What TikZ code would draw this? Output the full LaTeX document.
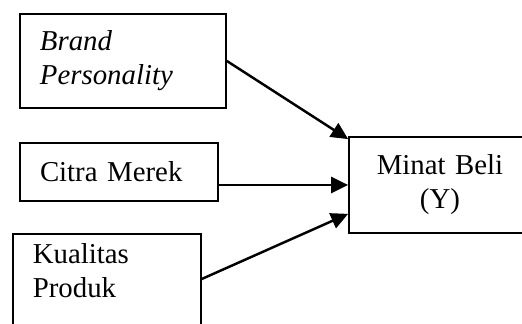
\documentclass[tikz,border=0pt]{standalone}
\usepackage{fontspec}
\setmainfont{Liberation Serif}
\usetikzlibrary{arrows.meta}

\begin{document}
\begin{tikzpicture}[
  >={Triangle[length=0.34cm,width=0.32cm]},
  box/.style={draw, line width=1pt, rectangle, align=left, inner xsep=0.4cm,
    font=\fontsize{16.4}{19.4}\selectfont},
  link/.style={->, line width=1.4pt}]
\useasboundingbox (0,0) rectangle (10.44,6.48);
\clip (0,0) rectangle (10.44,6.48);
\node[box, text width=3.32cm, minimum height=1.88cm] (BP) at (2.46,5.26) {\textit{Brand}\\\textit{Personality}};
\node[box, text width=3.16cm, minimum height=1.16cm] (CM) at (2.38,3.04) {Citra Merek};
\node[box, text width=2.96cm, anchor=north west, inner ysep=0.2cm, text depth=1.3cm] (KP) at (0.24,1.82) {Kualitas\\Produk};
\node[box, text width=3.24cm, minimum height=1.92cm, align=center, inner xsep=0.2cm] (MB) at (8.8,2.78) {Minat Beli\\(Y)};
\draw [link] (BP.east) -- ([yshift=-0.06cm]MB.north west);
\draw [link] (CM.east |- MB.west) -- (MB.west);
\draw [link] ([yshift=-0.92cm]KP.north east) -- ([yshift=0.4cm]MB.south west);
\end{tikzpicture}
\end{document}
